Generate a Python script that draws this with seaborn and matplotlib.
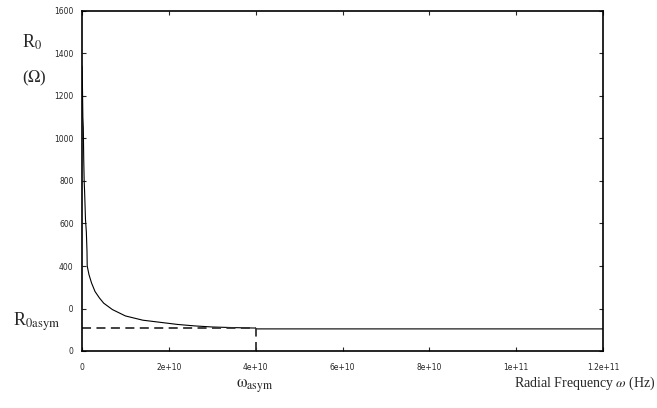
import matplotlib
matplotlib.use("Agg")
import matplotlib.pyplot as plt
from matplotlib.patches import Rectangle
import seaborn as sns
import pandas as pd

# Data
freq = [0, 0.1e9, 0.2e9, 0.3e9, 0.4e9, 0.5e9, 0.6e9, 0.8e9, 1.0e9, 1.15e9, 1.2e9, 1.6e9,
        2.2e9, 3e9, 4e9, 5e9, 7e9, 10e9, 14e9, 18e9, 22e9, 26e9, 30e9, 35e9, 40e9,
        40.1e9, 60e9, 80e9, 100e9, 120e9]
r0 = [1340, 1250, 1100, 1050, 900, 800, 750, 620, 560, 470, 400, 360,
      320, 280, 250, 225, 195, 165, 145, 135, 125, 118, 113, 110, 108,
      104, 104, 104, 104, 104]
r0_asym = 108
omega_asym = 4e10
xticks = [0, 2e10, 4e10, 6e10, 8e10, 1e11, 1.2e11]
xticklabels = ["0", "2e+10", "4e+10", "6e+10", "8e+10", "1e+11", "1.2e+11"]
yticks = [0, 200, 400, 600, 800, 1000, 1200, 1400, 1600]

sns.set_style("ticks")
plt.rcParams["font.family"] = ["DejaVu Sans"]
plt.rcParams["mathtext.fontset"] = "stix"

fig = plt.figure(figsize=(6.57, 4.08), dpi=100)
ax = fig.add_axes([82/657, 57/408, (603-82)/657, (351-11)/408])

df = pd.DataFrame({"freq": freq, "R0": r0})
sns.lineplot(data=df, x="freq", y="R0", ax=ax, color="black", linewidth=0.8)

# asymptote dashed lines
ax.plot([0, omega_asym], [r0_asym, r0_asym], color="#333333", lw=1.3, ls=(0, (5, 3)))
ax.plot([omega_asym, omega_asym], [0, r0_asym], color="#333333", lw=1.3, ls=(0, (5, 3)))

ax.set_xlim(0, 1.2e11)
ax.set_ylim(0, 1600)
ax.set_xticks(xticks)
ax.set_xticklabels(xticklabels)
ax.set_yticks(yticks)
ax.set_yticklabels([str(v) for v in yticks])
ax.tick_params(direction="in", length=3, width=0.8, labelsize=5.5,
               top=True, right=True, pad=9)
ax.tick_params(axis="y", pad=6)
ax.set_xlabel("")
ax.set_ylabel("")
for s in ax.spines.values():
    s.set_linewidth(1.2)
    s.set_color("black")

# white patch hiding part of the "200" label, as in the reference
fig.add_artist(Rectangle((8/657, 1 - 334/408), 61/657, 32/408,
                         transform=fig.transFigure, facecolor="white",
                         edgecolor="none", zorder=5))

serif = "Liberation Serif"
fig.text(22/657, 1 - 42/408, r"R$_0$", fontsize=13, family=serif, va="center", ha="left")
fig.text(22/657, 1 - 78/408, r"($\mathit{\Omega}$)", fontsize=12, family=serif, va="center", ha="left")
fig.text(13/657, 1 - 322/408, r"R$_{\mathrm{0asym}}$", fontsize=13, family=serif,
         va="center", ha="left", zorder=6)
fig.text(236/657, 1 - 386/408, r"$\mathrm{\omega}_{\mathrm{asym}}$", fontsize=12, family=serif,
         va="center", ha="left")
fig.text(656/657, 1 - 383/408, r"Radial Frequency $\mathit{\omega}$ (Hz)", fontsize=10,
         family=serif, va="center", ha="right")

fig.savefig("out.png", dpi=100)
